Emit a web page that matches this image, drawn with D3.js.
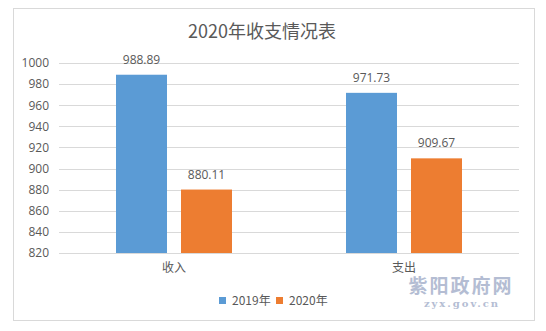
<!DOCTYPE html>
<html><head><meta charset="utf-8">
<script src="https://cdn.jsdelivr.net/npm/d3@7"></script>
<style>
html,body{margin:0;padding:0;background:#fff;}
svg{display:block;font-family:"Noto Sans CJK SC","Noto Sans",sans-serif;}
</style></head>
<body>
<svg id="chart" width="546" height="331"></svg>
<script>
const title = "2020年收支情况表";
const categories = ["收入", "支出"];
const seriesNames = ["2019年", "2020年"];
const values2019 = [988.89, 971.73];
const values2020 = [880.11, 909.67];
const yTicks = [820, 840, 860, 880, 900, 920, 940, 960, 980, 1000];
const colors = ["#5B9BD5", "#ED7D31"];
const watermark = "紫阳政府网";
const watermarkUrl = "zyx.gov.cn";

const svg = d3.select("#chart");
const textColor = "#595959";

// frame
svg.append("rect").attr("x", 13.5).attr("y", 8.5).attr("width", 521).attr("height", 312)
  .attr("fill", "#fff").attr("stroke", "#d9d9d9").attr("stroke-width", 1);

const plot = {left: 59, right: 519, top: 63, bottom: 253};
const x0 = d3.scaleBand().domain(categories).range([plot.left, plot.right]).padding(0);
const y = d3.scaleLinear().domain([820, 1000]).range([plot.bottom, plot.top]);

// gridlines
svg.append("g").selectAll("line").data(yTicks).join("line")
  .attr("x1", plot.left).attr("x2", plot.right)
  .attr("y1", d => Math.round(y(d)) + 0.5).attr("y2", d => Math.round(y(d)) + 0.5)
  .attr("stroke", "#d9d9d9").attr("stroke-width", 1);

// y axis labels
const yAxis = d3.axisLeft(y).tickValues(yTicks).tickSize(0).tickPadding(10).tickFormat(d3.format("d"));
const gy = svg.append("g").attr("transform", `translate(${plot.left},0)`).call(yAxis);
gy.select(".domain").remove();
gy.selectAll("text").attr("fill", textColor).style("font-size", "12px")
  .style("font-family", "'Open Sans','Noto Sans',sans-serif");

// bars
const barW = 51, innerGap = 14;
const data = categories.map((c, i) => ({cat: c, vals: [values2019[i], values2020[i]]}));
const groups = svg.append("g").selectAll("g").data(data).join("g");
groups.each(function(d) {
  const cx = x0(d.cat) + x0.bandwidth() / 2;
  const g = d3.select(this);
  d.vals.forEach((v, j) => {
    const bx = j === 0 ? cx - innerGap / 2 - barW : cx + innerGap / 2;
    g.append("rect").attr("x", bx).attr("y", y(v)).attr("width", barW)
      .attr("height", y(820) - y(v)).attr("fill", colors[j]);
    g.append("text").attr("x", bx + barW / 2).attr("y", y(v) - 11)
      .attr("text-anchor", "middle").attr("fill", textColor)
      .style("font-size", "12px").style("font-family", "'Open Sans','Noto Sans',sans-serif")
      .text(v.toFixed(2));
  });
});

// x axis line
svg.append("line").attr("x1", plot.left).attr("x2", plot.right)
  .attr("y1", plot.bottom + 0.5).attr("y2", plot.bottom + 0.5)
  .attr("stroke", "#d9d9d9");

// category labels
svg.append("g").selectAll("text").data(categories).join("text")
  .attr("x", d => x0(d) + x0.bandwidth() / 2).attr("y", 272)
  .attr("text-anchor", "middle").attr("fill", textColor).style("font-size", "12px")
  .text(d => d);

// title
svg.append("text").attr("x", 262).attr("y", 38).attr("text-anchor", "middle")
  .attr("fill", textColor).style("font-size", "18px").text(title);

// legend
const legendItems = [{x: 219, name: seriesNames[0], c: colors[0]}, {x: 276, name: seriesNames[1], c: colors[1]}];
const lg = svg.append("g").selectAll("g").data(legendItems).join("g");
lg.append("rect").attr("x", d => d.x).attr("y", 297).attr("width", 7).attr("height", 7).attr("fill", d => d.c);
lg.append("text").attr("x", d => d.x + 13).attr("y", 304.5).attr("fill", textColor)
  .style("font-size", "12px").text(d => d.name);

// watermark
svg.append("text").attr("x", 461).attr("y", 293).attr("text-anchor", "middle")
  .attr("fill", "#b4bdd3").style("font-size", "19px").style("font-weight", "bold")
  .style("letter-spacing", "2px").text(watermark);
svg.append("text").attr("x", 462).attr("y", 306.5).attr("text-anchor", "middle")
  .attr("fill", "#b4bdd3").style("font-size", "10px").style("font-weight", "bold")
  .style("font-family", "'DejaVu Serif','Liberation Serif',serif")
  .style("letter-spacing", "2px").text(watermarkUrl);
</script>
</body></html>
